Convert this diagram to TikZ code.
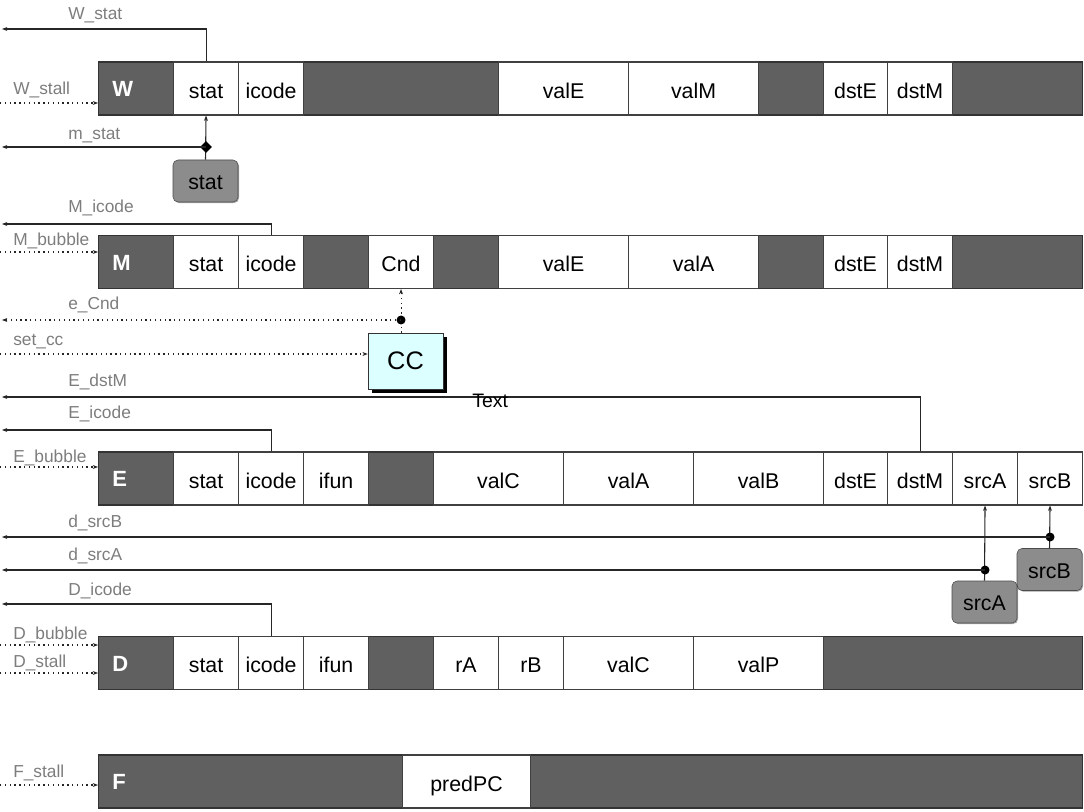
\documentclass[tikz,border=0pt]{standalone}
\usepackage{fontspec}
\setmainfont{Liberation Sans}
\usetikzlibrary{arrows.meta,shadows,shapes.geometric}
\newdimen\pxu \pxu=0.75pt
\definecolor{regdark}{RGB}{96,96,96}
\definecolor{boxgray}{RGB}{140,140,140}
\definecolor{ccfill}{RGB}{220,255,255}
\definecolor{lblgray}{RGB}{125,125,125}
\newcommand\regcell[5]{\node[cell, minimum width=#3\pxu] (#1) at (#2,#4) {#5};}
\begin{document}
\begin{tikzpicture}[x=0.75pt,y=-0.75pt,
 bar/.style={draw=black!80, fill=regdark, line width=0.8pt, minimum width=984\pxu, minimum height=53\pxu, anchor=west, inner sep=0},
 cell/.style={draw=black!75, fill=white, line width=0.8pt, minimum height=53\pxu, anchor=west, inner sep=0, text height=14.5pt, text depth=0pt, font=\fontsize{16}{18}\selectfont},
 stagename/.style={text=white, font=\fontsize{16.5}{18}\selectfont\bfseries, anchor=west, inner sep=0},
 sig/.style={text=lblgray, font=\fontsize{13}{15}\selectfont, anchor=base west, inner sep=0},
 outwire/.style={draw=black!85, line width=0.8pt, -{Stealth[length=4pt,width=3pt]}},
 inwire/.style={draw=black!85, line width=0.8pt, dash pattern=on 1pt off 2.6pt, -{Stealth[length=4pt,width=3pt]}},
 junction/.style={circle, fill=black, inner sep=0, minimum size=9\pxu},
 djunction/.style={diamond, fill=black, inner sep=0, minimum size=12\pxu},
 srcbox/.style={draw=black!70, fill=boxgray, rounded corners=5\pxu, minimum width=65\pxu, minimum height=42\pxu, inner sep=0, text height=13pt, text depth=0pt, font=\fontsize{16}{18}\selectfont, drop shadow={shadow xshift=0.8pt, shadow yshift=-0.8pt, fill=black, opacity=0.35}},
 ccbox/.style={draw=black!80, fill=ccfill, minimum width=75\pxu, minimum height=56\pxu, inner sep=0, font=\fontsize{19}{22}\selectfont, drop shadow={shadow xshift=3pt, shadow yshift=-3pt, fill=black, opacity=1}},
]
\useasboundingbox (0,0) rectangle (1084,812);

% ---------------- W register
\node[bar] (W) at (98,88.5) {};
\node[stagename] at (112,89) {W};
\regcell{Wstat}{173}{65}{88.5}{stat}
\regcell{Wicode}{238}{65}{88.5}{icode}
\regcell{WvalE}{498}{130}{88.5}{valE}
\regcell{WvalM}{628}{130}{88.5}{valM}
\regcell{WdstE}{823}{64}{88.5}{dstE}
\regcell{WdstM}{887}{65}{88.5}{dstM}

% ---------------- M register
\node[bar] (M) at (98,262) {};
\node[stagename] at (112,262.5) {M};
\regcell{Mstat}{173}{65}{262}{stat}
\regcell{Micode}{238}{65}{262}{icode}
\regcell{Cnd}{368}{65}{262}{Cnd}
\regcell{MvalE}{498}{130}{262}{valE}
\regcell{MvalA}{628}{130}{262}{valA}
\regcell{MdstE}{823}{64}{262}{dstE}
\regcell{MdstM}{887}{65}{262}{dstM}

% ---------------- E register
\node[bar] (E) at (98,478.5) {};
\node[stagename] at (112,479) {E};
\regcell{Estat}{173}{65}{478.5}{stat}
\regcell{Eicode}{238}{65}{478.5}{icode}
\regcell{Eifun}{303}{65}{478.5}{ifun}
\regcell{EvalC}{433}{130}{478.5}{valC}
\regcell{EvalA}{563}{130}{478.5}{valA}
\regcell{EvalB}{693}{130}{478.5}{valB}
\regcell{EdstE}{823}{64}{478.5}{dstE}
\regcell{EdstM}{887}{65}{478.5}{dstM}
\regcell{EsrcA}{952}{65}{478.5}{srcA}
\regcell{EsrcB}{1017}{65}{478.5}{srcB}

% ---------------- D register
\node[bar] (D) at (98,663) {};
\node[stagename] at (112,663.5) {D};
\regcell{Dstat}{173}{65}{663}{stat}
\regcell{Dicode}{238}{65}{663}{icode}
\regcell{Difun}{303}{65}{663}{ifun}
\regcell{DrA}{433}{65}{663}{rA}
\regcell{DrB}{498}{65}{663}{rB}
\regcell{DvalC}{563}{130}{663}{valC}
\regcell{DvalP}{693}{130}{663}{valP}

% ---------------- F register
\node[bar] (F) at (98,781.5) {};
\node[stagename] at (112,782) {F};
\regcell{FpredPC}{402}{128}{781.5}{predPC}

% ---------------- logic blocks
\node[srcbox] (statbox) at (205.5,181) {stat};
\node[ccbox] (CC) at (405.5,361) {CC};
\node[srcbox] (srcBbox) at (1049.5,569.5) {srcB};
\node[srcbox] (srcAbox) at (984.5,602) {srcA};

% ---------------- wire end coordinates
\coordinate (oWstat) at (2,29);
\coordinate (iWstall) at (0,103);
\coordinate (omstat) at (2,147);
\coordinate (oMicode) at (2,224);
\coordinate (iMbubble) at (0,252);
\coordinate (oeCnd) at (2,320);
\coordinate (isetcc) at (0,354);
\coordinate (oEdstM) at (2,397);
\coordinate (oEicode) at (2,430);
\coordinate (iEbubble) at (0,467);
\coordinate (odsrcB) at (2,537);
\coordinate (odsrcA) at (2,570);
\coordinate (oDicode) at (2,604);
\coordinate (iDbubble) at (0,645);
\coordinate (iDstall) at (0,673);
\coordinate (iFstall) at (0,785);

% ---------------- W wires
\draw[outwire] (Wstat.north) |- (oWstat);
\draw[inwire] (iWstall) -- (W.west |- iWstall);
\draw[outwire] (statbox.north) -- (Wstat.south);
\node[djunction] (jmstat) at (Wstat.south |- omstat) {};
\draw[outwire] (jmstat.center) -- (omstat);

% ---------------- M wires
\draw[outwire] (Micode.north) |- (oMicode);
\draw[inwire] (iMbubble) -- (M.west |- iMbubble);
\draw[inwire] (Cnd.south |- CC.north) -- (Cnd.south);
\node[junction] (jeCnd) at (Cnd.south |- oeCnd) {};
\draw[inwire] (jeCnd.center) -- (oeCnd);
\draw[inwire] (isetcc) -- (CC.west |- isetcc);

% ---------------- E wires
\draw[outwire] (EdstM.north) |- (oEdstM);
\node[anchor=base west, inner sep=0, font=\fontsize{14.6}{16}\selectfont] (txt) at (472,407) {Text};
\draw[outwire] (Eicode.north) |- (oEicode);
\draw[inwire] (iEbubble) -- (E.west |- iEbubble);
\draw[outwire] (srcBbox.north) -- (EsrcB.south);
\node[junction] (jsrcB) at (EsrcB.south |- odsrcB) {};
\draw[outwire] (jsrcB.center) -- (odsrcB);
\draw[outwire] (srcAbox.north) -- (EsrcA.south);
\node[junction] (jsrcA) at (EsrcA.south |- odsrcA) {};
\draw[outwire] (jsrcA.center) -- (odsrcA);

% ---------------- D and F wires
\draw[outwire] (Dicode.north) |- (oDicode);
\draw[inwire] (iDbubble) -- (D.west |- iDbubble);
\draw[inwire] (iDstall) -- (D.west |- iDstall);
\draw[inwire] (iFstall) -- (F.west |- iFstall);

% ---------------- signal labels
\node[sig] at (68,20) {W\_stat};
\node[sig] at (13,95) {W\_stall};
\node[sig] at (68,140) {m\_stat};
\node[sig] at (68,213) {M\_icode};
\node[sig] at (13,246) {M\_bubble};
\node[sig] at (68,310) {e\_Cnd};
\node[sig] at (13,346) {set\_cc};
\node[sig] at (68,387) {E\_dstM};
\node[sig] at (68,418) {E\_icode};
\node[sig] at (13,462) {E\_bubble};
\node[sig] at (68,527) {d\_srcB};
\node[sig] at (68,560) {d\_srcA};
\node[sig] at (68,595) {D\_icode};
\node[sig] at (13,639) {D\_bubble};
\node[sig] at (13,667) {D\_stall};
\node[sig] at (13,777) {F\_stall};
\end{tikzpicture}
\end{document}
